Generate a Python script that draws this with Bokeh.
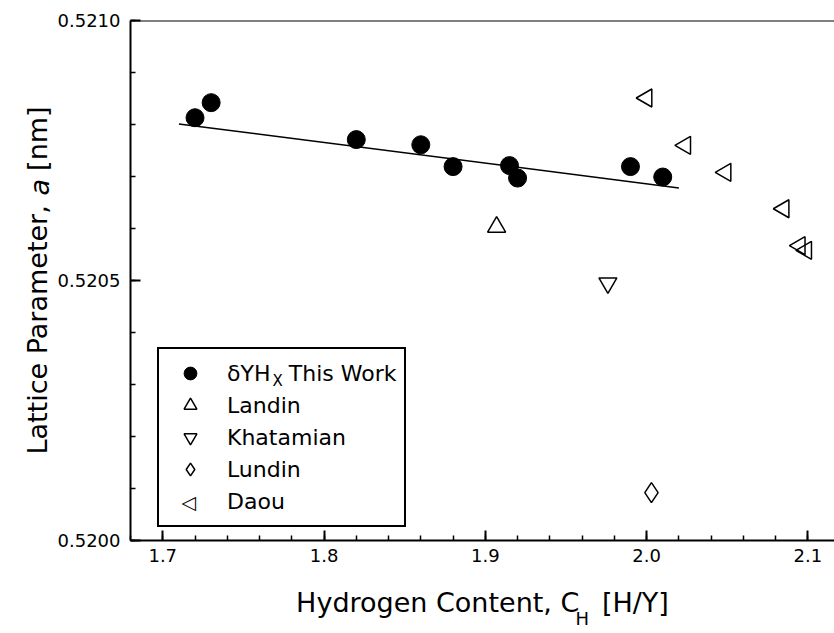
import math
from bokeh.plotting import figure
from bokeh.models import (Range1d, Label, Legend, LegendItem, Span,
                          FixedTicker, NumeralTickFormatter)
from bokeh.embed import file_html
from bokeh.resources import INLINE

# delta-YHx lattice parameter vs hydrogen content
work_x = [1.72, 1.73, 1.82, 1.86, 1.88, 1.915, 1.92, 1.99, 2.01]
work_a = [0.520813, 0.520842, 0.520771, 0.520761, 0.520719, 0.520721, 0.520697, 0.520719, 0.520699]

# linear fit through this work's points (end points)
fit_x = [1.71, 2.02]
fit_a = [0.520801, 0.520678]

landin_x = [1.907]
landin_a = [0.520603]
khatamian_x = [1.976]
khatamian_a = [0.520495]
lundin_x = [2.003]
lundin_a = [0.520092]
daou_x = [2.000, 2.024, 2.049, 2.085, 2.095, 2.099]
daou_a = [0.520851, 0.520760, 0.520708, 0.520638, 0.520567, 0.520558]

x_major = [1.7, 1.8, 1.9, 2.0, 2.1]
x_minor = [round(1.68 + 0.02 * i, 2) for i in range(23)]
y_major = [0.5200, 0.5205, 0.5210]
y_minor = [round(0.5200 + 0.0001 * i, 4) for i in range(11)]

FONT = "DejaVu Sans"
TITLE_SIZE = "27px"
NB = "\u00a0"

p = figure(width=834, height=633,
           x_range=Range1d(1.68, 2.1165), y_range=Range1d(0.5200, 0.5210),
           output_backend="svg", toolbar_location=None,
           min_border_left=130, min_border_top=20, min_border_bottom=93,
           min_border_right=0)
p.xgrid.visible = False
p.ygrid.visible = False
p.outline_line_color = None
p.background_fill_color = "white"
p.border_fill_color = "white"

xax = p.below[0]
yax = p.left[0]
xax.ticker = FixedTicker(ticks=x_major, minor_ticks=x_minor)
xax.formatter = NumeralTickFormatter(format="0.0")
yax.ticker = FixedTicker(ticks=y_major, minor_ticks=y_minor)
yax.formatter = NumeralTickFormatter(format="0.0000")

for ax in (xax, yax):
    ax.axis_line_width = 2
    ax.axis_line_color = "black"
    ax.major_tick_in = 10
    ax.major_tick_out = 0
    ax.minor_tick_in = 5
    ax.minor_tick_out = 0
    ax.major_tick_line_width = 2
    ax.minor_tick_line_width = 1.5
    ax.major_tick_line_color = "black"
    ax.minor_tick_line_color = "black"
    ax.major_label_text_font = FONT
    ax.major_label_text_font_size = "18px"
    ax.major_label_text_color = "black"
    ax.axis_label_text_font = FONT
    ax.axis_label_text_font_size = TITLE_SIZE
    ax.axis_label_text_font_style = "normal"
    ax.axis_label_text_color = "black"

xax.major_label_standoff = 8
yax.major_label_standoff = 10
xax.axis_label = "Hydrogen Content, C" + NB * 2 + "\u2009[H/Y]"
xax.axis_label_standoff = 22
yax.axis_label = "Lattice Parameter," + NB * 4 + "[nm]"
yax.axis_label_standoff = 2

# top edge of the frame
p.add_layout(Span(location=0.5210, dimension="width", line_color="black", line_width=2))

r_fit = p.line(fit_x, fit_a, line_color="black", line_width=1.5)
r_work = p.scatter(work_x, work_a, marker="circle", size=18,
                   fill_color="black", line_color="black")
r_landin = p.scatter(landin_x, landin_a, marker="triangle", size=18,
                     fill_color=None, line_color="black", line_width=1.5)
r_khat = p.scatter(khatamian_x, khatamian_a, marker="inverted_triangle", size=18,
                   fill_color=None, line_color="black", line_width=1.5)
r_lundin = p.scatter(lundin_x, lundin_a, marker="diamond", size=20,
                     fill_color=None, line_color="black", line_width=1.5)
r_daou = p.scatter(daou_x, daou_a, marker="triangle", angle=math.pi / 2, size=18,
                   fill_color=None, line_color="black", line_width=1.5)
# transparent twin of the Daou series, used only as its legend entry
r_daou_key = p.scatter(daou_x, daou_a, marker="triangle", size=18,
                       fill_alpha=0, line_alpha=0)

legend = Legend(items=[
    LegendItem(label="\u03b4YH" + NB * 2 + "\u2009This Work", renderers=[r_work]),
    LegendItem(label="Landin", renderers=[r_landin]),
    LegendItem(label="Khatamian", renderers=[r_khat]),
    LegendItem(label="Lundin", renderers=[r_lundin]),
    LegendItem(label="Daou", renderers=[r_daou_key]),
], location=(27, 13))
legend.margin = 0
legend.padding = 8
legend.spacing = 0
legend.glyph_width = 46
legend.glyph_height = 32
legend.label_height = 22
legend.label_standoff = 14
legend.label_width = 160
legend.label_text_font = FONT
legend.label_text_font_size = "22px"
legend.label_text_color = "black"
legend.border_line_color = "black"
legend.border_line_width = 2
legend.border_line_alpha = 1
legend.background_fill_alpha = 0
p.add_layout(legend, "center")

# legend subscript and left-pointing key for Daou
p.add_layout(Label(x=142, y=160, x_units="screen", y_units="screen", text="X",
                   text_font=FONT, text_font_size="15px", text_color="black",
                   text_baseline="middle"))
p.add_layout(Label(x=58, y=39, x_units="screen", y_units="screen", text="\u25c1",
                   text_font="DejaVu Sans", text_font_size="19px", text_color="black",
                   text_align="center", text_baseline="middle"))

# italic "a" of the y title (kept in the top panel)
p.add_layout(Label(x=-91, y=-175, x_units="screen", y_units="screen",
                   text="a", angle=math.pi / 2, text_font_style="italic",
                   text_font=FONT, text_font_size=TITLE_SIZE, text_color="black",
                   text_align="left", text_baseline="middle"), "above")
# subscript "H" of the x title (kept in the left panel)
p.add_layout(Label(x=571, y=-78, x_units="screen", y_units="screen",
                   text="H", text_font=FONT, text_font_size="18px",
                   text_color="black", text_baseline="middle"), "left")

open("out.html", "w").write(file_html(p, INLINE))
